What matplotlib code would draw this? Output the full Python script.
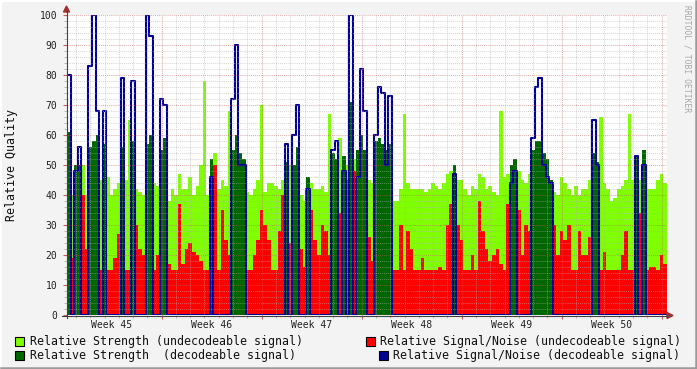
import matplotlib
matplotlib.use("Agg")
import matplotlib.pyplot as plt
import numpy as np
from matplotlib.lines import Line2D
from matplotlib.patches import Rectangle, Polygon

# 6-hour samples, days counted from Monday 00:00 of week 45
t_start = 0.375
step = 0.25

# Relative Strength (undecodeable signal)
strength_undec = [
    0, 40, 0, 0, 50, 40, 0, 0, 0, 45, 0, 46,
    40, 42, 44, 0, 45, 65, 0, 42, 41, 40, 0, 0,
    44, 43, 0, 0, 38, 42, 40, 47, 42, 42, 46, 40,
    43, 50, 78, 40, 0, 54, 42, 45, 43, 68, 0, 0,
    0, 0, 41, 40, 42, 45, 70, 41, 44, 44, 43, 42,
    45, 0, 50, 0, 0, 40, 38, 0, 44, 42, 42, 43,
    41, 67, 0, 0, 59, 0, 50, 0, 52, 0, 0, 0,
    45, 44, 0, 0, 0, 0, 0, 38, 38, 42, 67, 44,
    42, 42, 42, 42, 41, 42, 44, 43, 42, 44, 47, 48,
    0, 45, 45, 42, 40, 43, 42, 47, 46, 42, 43, 41,
    40, 68, 46, 47, 0, 0, 48, 45, 44, 47, 0, 0,
    0, 0, 0, 0, 41, 40, 46, 44, 42, 40, 43, 40,
    42, 42, 45, 0, 0, 66, 44, 42, 38, 39, 42, 43,
    45, 67, 45, 0, 45, 0, 42, 42, 42, 45, 47, 44,
]
# Relative Signal/Noise (undecodeable signal)
sn_undec = [
    0, 19, 0, 0, 40, 22, 0, 0, 0, 15, 0, 15,
    15, 19, 27, 0, 15, 15, 0, 30, 22, 20, 0, 0,
    15, 20, 0, 0, 17, 15, 15, 37, 17, 22, 24, 21,
    20, 18, 15, 15, 0, 50, 15, 35, 25, 20, 0, 0,
    0, 0, 15, 15, 20, 25, 35, 30, 25, 15, 15, 28,
    40, 0, 24, 0, 0, 22, 16, 0, 35, 25, 20, 30,
    28, 20, 0, 0, 34, 0, 45, 0, 48, 0, 0, 0,
    26, 18, 0, 0, 0, 0, 0, 15, 15, 30, 15, 28,
    22, 15, 15, 19, 15, 15, 15, 15, 16, 15, 30, 37,
    0, 30, 25, 15, 15, 20, 15, 38, 28, 22, 18, 20,
    22, 17, 15, 37, 0, 0, 35, 20, 30, 28, 0, 0,
    0, 0, 0, 0, 30, 20, 28, 25, 30, 15, 15, 28,
    20, 20, 26, 0, 0, 15, 21, 15, 15, 15, 15, 20,
    28, 15, 15, 0, 34, 0, 15, 16, 16, 15, 20, 17,
]
# Relative Strength (decodeable signal)
strength_dec = [
    61, 0, 50, 50, 0, 0, 56, 58, 60, 0, 57, 0,
    0, 0, 0, 56, 0, 0, 58, 0, 0, 0, 57, 60,
    0, 0, 55, 59, 0, 0, 0, 0, 0, 0, 0, 0,
    0, 0, 0, 0, 52, 0, 0, 0, 0, 0, 55, 60,
    54, 52, 0, 0, 0, 0, 0, 0, 0, 0, 0, 0,
    0, 51, 0, 50, 56, 0, 0, 46, 0, 0, 0, 0,
    0, 0, 54, 52, 0, 53, 0, 71, 0, 55, 60, 55,
    0, 0, 58, 59, 57, 55, 57, 0, 0, 0, 0, 0,
    0, 0, 0, 0, 0, 0, 0, 0, 0, 0, 0, 0,
    50, 0, 0, 0, 0, 0, 0, 0, 0, 0, 0, 0,
    0, 0, 0, 0, 50, 52, 0, 0, 0, 0, 55, 58,
    58, 54, 52, 45, 0, 0, 0, 0, 0, 0, 0, 0,
    0, 0, 0, 54, 51, 0, 0, 0, 0, 0, 0, 0,
    0, 0, 0, 53, 0, 55, 0, 0, 0, 0, 0, 0,
]
# Relative Signal/Noise (decodeable signal)
sn_dec = [
    80, 0, 48, 56, 0, 0, 83, 100, 68, 0, 68, 0,
    0, 0, 0, 79, 0, 0, 78, 0, 0, 0, 100, 93,
    0, 0, 72, 70, 0, 0, 0, 0, 0, 0, 0, 0,
    0, 0, 0, 0, 46, 0, 0, 0, 0, 0, 72, 90,
    50, 50, 0, 0, 0, 0, 0, 0, 0, 0, 0, 0,
    0, 57, 0, 60, 70, 0, 0, 42, 0, 0, 0, 0,
    0, 0, 55, 58, 0, 48, 0, 100, 0, 46, 82, 68,
    0, 0, 60, 76, 74, 50, 73, 0, 0, 0, 0, 0,
    0, 0, 0, 0, 0, 0, 0, 0, 0, 0, 0, 0,
    47, 0, 0, 0, 0, 0, 0, 0, 0, 0, 0, 0,
    0, 0, 0, 0, 44, 48, 0, 0, 0, 0, 59, 76,
    79, 50, 46, 44, 0, 0, 0, 0, 0, 0, 0, 0,
    0, 0, 0, 65, 50, 0, 0, 0, 0, 0, 0, 0,
    0, 0, 0, 53, 0, 50, 0, 0, 0, 0, 0, 0,
]

week_labels = ["Week 45", "Week 46", "Week 47", "Week 48", "Week 49", "Week 50"]
legend_labels = [
    "Relative Strength (undecodeable signal)",
    "Relative Signal/Noise (undecodeable signal)",
    "Relative Strength  (decodeable signal)",
    "Relative Signal/Noise (decodeable signal)",
]
colors = ["#80ff00", "#ff0000", "#006600", "#000099"]

W, H = 697, 369
MONO = "DejaVu Sans Mono"


def px(x, y):
    return x / W, 1 - y / H


def ext(v):
    v = np.asarray(v, dtype=float)
    return np.append(v, v[-1])


fig = plt.figure(figsize=(W / 100, H / 100), dpi=100, facecolor="#f3f3f3")
ax = fig.add_axes([67 / W, 1 - 315 / H, 600 / W, 300 / H])
ax.set_facecolor("white")

t = t_start + step * np.arange(len(strength_undec) + 1)
ax.fill_between(t, 0, ext(strength_undec), step="post", color=colors[0], lw=0, zorder=1)
ax.fill_between(t, 0, ext(sn_undec), step="post", color=colors[1], lw=0, zorder=1.1)
ax.fill_between(t, 0, ext(strength_dec), step="post", color=colors[2], lw=0, zorder=1.2)
ax.step(t, ext(sn_dec), where="post", color=colors[3], lw=1.5, zorder=1.3)

ax.set_xlim(t_start, t_start + 42)
ax.set_ylim(0, 100)

# grid drawn over the data, like rrdtool does
for d in range(1, 43):
    major = d % 7 == 0
    ax.axvline(d, color="#c06060" if major else "#b0b0b0", alpha=0.5,
               lw=0.75, ls=(0, (1, 1)), zorder=3)
for v in range(2, 101, 2):
    major = v % 10 == 0
    ax.axhline(v, color="#c06060" if major else "#b0b0b0", alpha=0.5,
               lw=0.75, ls=(0, (1, 1)), zorder=3)

for s in ax.spines.values():
    s.set_visible(False)
ax.set_xticks(range(7, 43, 7))
ax.set_xticks(range(1, 43), minor=True)
ax.set_yticks(range(0, 101, 10))
ax.set_yticks(range(0, 101, 2), minor=True)
ax.tick_params(axis="x", which="major", length=3, color="#c06060", labelbottom=False)
ax.tick_params(axis="x", which="minor", length=2, color="#b0b0b0")
ax.tick_params(axis="y", which="major", length=3, color="#c06060", labelsize=7,
               pad=4, labelfontfamily=MONO, labelcolor="#222222")
ax.tick_params(axis="y", which="minor", length=2, color="#b0b0b0")

for i, lab in enumerate(week_labels):
    ax.text(3.5 + 7 * i, -3.3, lab, ha="center", va="center", fontsize=7,
            family=MONO, color="#222222")

# axes with arrows
fig.add_artist(Line2D(*zip(px(66.5, 318), px(66.5, 11)), color="#404040", lw=0.8))
fig.add_artist(Line2D(*zip(px(62, 315.5), px(668, 315.5)), color="#404040", lw=0.8))
fig.add_artist(Polygon([px(63.5, 12), px(69.5, 12), px(66.5, 6)], closed=True,
                       color="#a03030", transform=fig.transFigure))
fig.add_artist(Polygon([px(667, 312.5), px(667, 318.5), px(673, 315.5)], closed=True,
                       color="#a03030", transform=fig.transFigure))

fig.text(*px(12, 165), "Relative Quality", rotation=90, ha="center", va="center",
         fontsize=8.4, family=MONO, color="#111111")
fig.text(*px(687, 5), "RRDTOOL / TOBI OETIKER", rotation=270, ha="center", va="top",
         fontsize=5.8, family=MONO, color="#a8a8a8")

# legend
legend_pos = [(15, 341, 30), (366, 341, 380), (15, 355, 30), (379, 355, 393)]
for (bx, by, tx), lab, c in zip(legend_pos, legend_labels, colors):
    x0, y0 = px(bx, by + 4.5)
    fig.add_artist(Rectangle((x0, y0), 9 / W, 9 / H, facecolor=c, edgecolor="black",
                             lw=0.8, transform=fig.transFigure))
    fig.text(*px(tx, by), lab, ha="left", va="center", fontsize=8.4, family=MONO,
             color="#111111")

# 3d frame of the canvas
fig.add_artist(Line2D(*zip(px(0.5, 368), px(0.5, 0.5), px(696, 0.5)), color="white", lw=1.5))
fig.add_artist(Line2D(*zip(px(1, 367.8), px(696.2, 367.8), px(696.2, 1)), color="#9a9a9a", lw=1.8))

fig.savefig("out.png", dpi=100, facecolor=fig.get_facecolor())
